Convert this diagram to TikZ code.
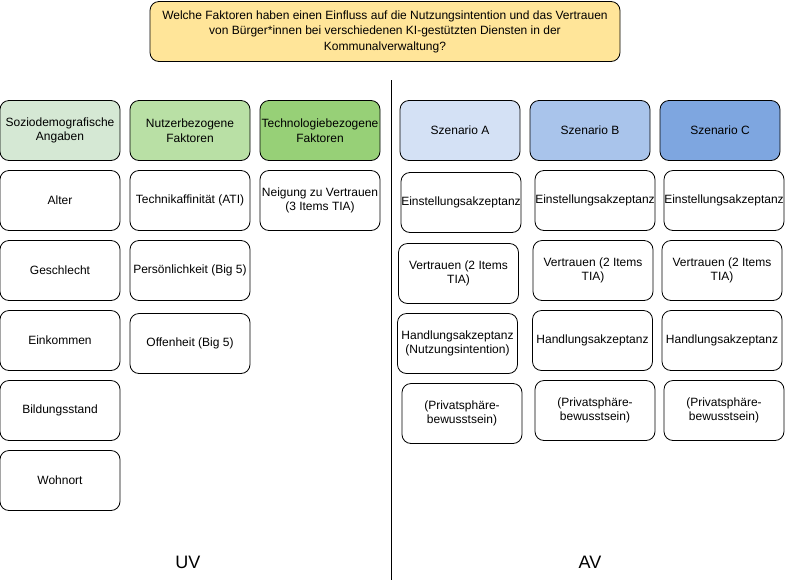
\documentclass[tikz,border=0pt]{standalone}
\usepackage{fontspec}
\setmainfont{Liberation Sans}
\definecolor{titlefill}{HTML}{FFE599}
\definecolor{gA}{HTML}{D5E8D4}
\definecolor{gB}{HTML}{B9E0A5}
\definecolor{gC}{HTML}{97D077}
\definecolor{bA}{HTML}{D4E1F5}
\definecolor{bB}{HTML}{A9C4EB}
\definecolor{bC}{HTML}{7EA6E0}
\tikzset{
  box/.style={draw=black, line width=0.8pt, rounded corners=9pt, fill=white,
    minimum width=120pt, minimum height=60pt, inner sep=0pt, align=center,
    font=\fontsize{12}{14.5}\selectfont},
  biglabel/.style={font=\fontsize{18}{20}\selectfont},
}
\begin{document}
\begin{tikzpicture}[x=1pt,y=-1pt]
\useasboundingbox (0,0) rectangle (785,582);
% title
\node[box, fill=titlefill, minimum width=470pt, minimum height=60pt,
  font=\fontsize{12}{15.5}\selectfont] (title) at (385,31.5)
  {Welche Faktoren haben einen Einfluss auf die Nutzungsintention und das Vertrauen\\
   von Bürger*innen bei verschiedenen KI-gestützten Diensten in der\\
   Kommunalverwaltung?};
% divider
\coordinate (ltop) at (391,80);
\coordinate (lbot) at (391,580);
\draw[line width=0.8pt] (ltop) -- (lbot);
% left headers
\node[box, fill=gA] (soz) at (60,130.5) {Soziodemografische\\Angaben};
\node[box, fill=gB] (nutz) at (190,130.5) {Nutzerbezogene\\Faktoren};
\node[box, fill=gC] (tech) at (320,130.5) {Technologiebezogene\\Faktoren};
% column 1
\node[box] (alter) at (60,200.5) {Alter};
\node[box] (geschl) at (60,270.5) {Geschlecht};
\node[box] (eink) at (60,340.5) {Einkommen};
\node[box] (bild) at (60,410.5) {Bildungsstand};
\node[box] (wohn) at (60,480.5) {Wohnort};
% column 2
\node[box] (ati) at (190,200.5) {Technikaffinität (ATI)};
\node[box] (pers) at (190,270.5) {Persönlichkeit (Big 5)};
\node[box] (offen) at (190,343.5) {Offenheit (Big 5)};
% column 3
\node[box] (neig) at (320,200.5) {Neigung zu Vertrauen\\(3 Items TIA)};
% right headers
\node[box, fill=bA] (sa) at (460,130.5) {Szenario A};
\node[box, fill=bB] (sb) at (590,130.5) {Szenario B};
\node[box, fill=bC] (sc) at (720,130.5) {Szenario C};
% scenario A
\node[box] (ea) at (461,202.5) {Einstellungsakzeptanz};
\node[box] (va) at (458.5,273.5) {Vertrauen (2 Items\\TIA)};
\node[box] (ha) at (457.5,343.5) {Handlungsakzeptanz\\(Nutzungsintention)};
\node[box] (pa) at (462,413.5) {(Privatsphäre-\\bewusstsein)};
% scenario B
\node[box] (eb) at (595,200.5) {Einstellungsakzeptanz};
\node[box] (vb) at (593,270.5) {Vertrauen (2 Items\\TIA)};
\node[box] (hb) at (592.5,340.5) {Handlungsakzeptanz};
\node[box] (pb) at (595,410.5) {(Privatsphäre-\\bewusstsein)};
% scenario C
\node[box] (ec) at (724,200.5) {Einstellungsakzeptanz};
\node[box] (vc) at (722,270.5) {Vertrauen (2 Items\\TIA)};
\node[box] (hc) at (722,340.5) {Handlungsakzeptanz};
\node[box] (pc) at (724,410.5) {(Privatsphäre-\\bewusstsein)};
% labels
\node[biglabel] (uv) at (188,562) {UV};
\node[biglabel] (av) at (590,562) {AV};
\end{tikzpicture}
\end{document}
